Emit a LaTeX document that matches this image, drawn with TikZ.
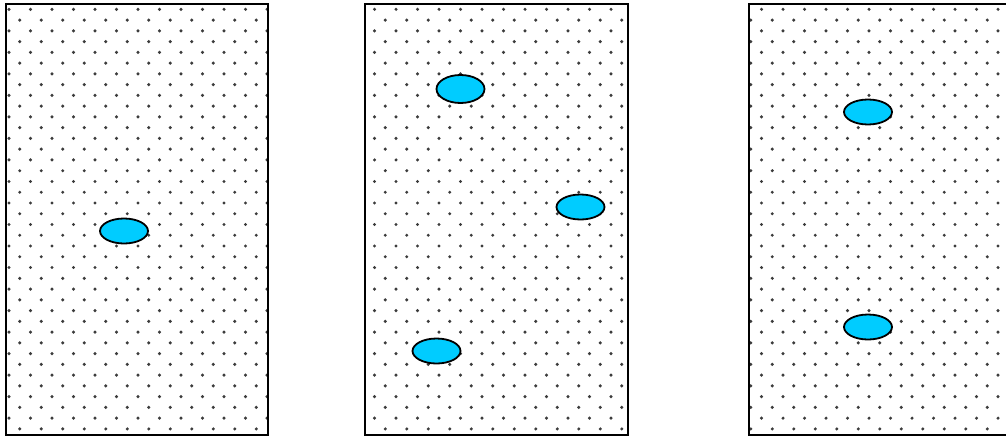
\documentclass[tikz,border=0pt]{standalone}
\usetikzlibrary{shapes.geometric}
\definecolor{blobfill}{RGB}{0,204,255}
\definecolor{dotc}{RGB}{60,60,60}
\tikzset{
  panel/.style={draw=black, line width=2pt},
  blob/.style={ellipse, draw=black, line width=1.8pt, fill=blobfill, inner sep=0pt, minimum width=48pt, minimum height=25pt},
  dotmark/.style={fill=dotc}
}
\newcommand\dotgrid[4]{%
  \begin{scope}
    \clip (#1,3) rectangle (#2,434);
    \foreach \k in {0,...,39} {
      \pgfmathsetmacro\yy{9.3+10.76*\k}
      \pgfmathsetmacro\xo{mod(\k,2)*10.75}
      \foreach \i in {#3,...,#4} {
        \fill[dotmark] ({9+\xo+21.5*\i},\yy) circle (1.7pt);
      }
    }
  \end{scope}}
\begin{document}
\begin{tikzpicture}[x=1pt,y=-1pt]
  \useasboundingbox (0,0) rectangle (1006,437);
  % dot fields
  \dotgrid{5.5}{267.5}{-1}{12}
  \dotgrid{365}{628}{16}{29}
  \dotgrid{749}{1012}{34}{47}
  % panels
  \draw[panel] (5.5,3.5) rectangle (267.5,434.5);
  \draw[panel] (365,3.5) rectangle (628,434.5);
  \draw[panel] (749,3.5) rectangle (1014,434.5);
  % ellipses
  \node[blob] (a1) at (124,231) {};
  \node[blob, minimum height=28pt] (b1) at (460.5,89) {};
  \node[blob] (b2) at (580.5,207) {};
  \node[blob] (b3) at (436.5,351) {};
  \node[blob] (c1) at (868,112) {};
  \node[blob] (c2) at (868,327) {};
\end{tikzpicture}
\end{document}
